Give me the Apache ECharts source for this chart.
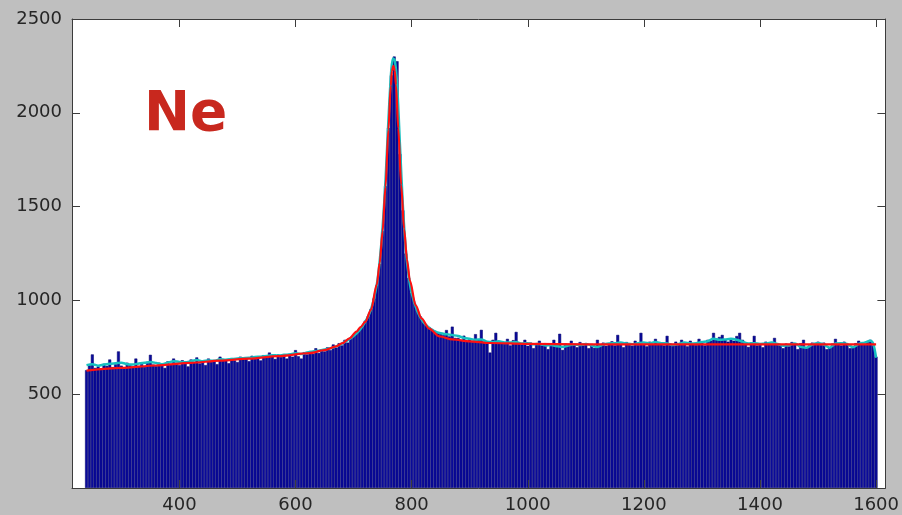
<!DOCTYPE html>
<html>
<head>
<meta charset="utf-8">
<script src="https://cdn.jsdelivr.net/npm/echarts@6/dist/echarts.min.js"></script>
<style>
  html, body { margin: 0; padding: 0; background: #bfbfbf; }
  #chart { width: 902px; height: 515px; }
</style>
</head>
<body>
<div id="chart"></div>
<script>
// Histogram: first bin centre and bin width (channel units)
const binStart = 240;
const binWidth = 5;

// Counts per bin, 240 .. 1600
const counts = [
  628, 655, 712, 640, 648, 630, 662, 651, 685, 644,
  660, 728, 652, 640, 668, 655, 646, 690, 650, 661,
  645, 672, 710, 658, 650, 668, 655, 640, 675, 662,
  690, 668, 655, 681, 662, 648, 685, 670, 696, 664,
  678, 655, 690, 672, 680, 660, 700, 678, 686, 665,
  692, 680, 671, 700, 684, 690, 676, 705, 688, 695,
  680, 708, 695, 722, 700, 688, 712, 698, 705, 690,
  716, 700, 735, 702, 690, 724, 712, 730, 715, 745,
  720, 738, 728, 750, 735, 765, 748, 772, 760, 790,
  775, 800, 812, 830, 846, 862, 892, 915, 955, 1010,
  1080, 1195, 1370, 1610, 1920, 2200, 2300, 2275, 1780, 1480,
  1250, 1120, 1040, 985, 945, 915, 890, 870, 858, 848,
  838, 830, 822, 815, 842, 808, 860, 800, 800, 790,
  812, 785, 795, 778, 820, 790, 843, 780, 770, 722,
  790, 827, 775, 782, 768, 795, 760, 788, 832, 772,
  765, 790, 758, 775, 745, 770, 785, 760, 772, 740,
  768, 790, 755, 822, 736, 770, 760, 785, 765, 750,
  778, 760, 772, 745, 768, 747, 790, 762, 775, 758,
  770, 782, 760, 816, 765, 750, 778, 770, 758, 785,
  762, 827, 768, 755, 780, 765, 795, 770, 775, 760,
  811, 770, 758, 780, 765, 790, 772, 755, 785, 768,
  762, 795, 775, 760, 790, 785, 827, 795, 805, 816,
  790, 780, 798, 785, 810, 827, 790, 770, 752, 775,
  811, 760, 772, 750, 780, 765, 770, 800, 772, 760,
  745, 770, 755, 778, 765, 740, 772, 790, 745, 760,
  775, 768, 780, 762, 775, 740, 750, 770, 795, 772,
  760, 780, 768, 745, 752, 772, 785, 765, 770, 778,
  790, 760, 700
];

// Smoothed spectrum [channel, counts]
const smoothed = [
  [240, 655], [250, 660], [260, 652], [270, 658], [280, 662], [290, 665], [300, 668], [310, 660],
  [320, 658], [330, 664], [340, 668], [350, 672], [360, 666], [370, 660], [380, 668], [390, 676],
  [400, 672], [410, 670], [420, 676], [430, 682], [440, 676], [450, 680], [460, 678], [470, 686],
  [480, 684], [490, 688], [500, 690], [510, 692], [520, 694], [530, 698], [540, 700], [550, 704],
  [560, 708], [570, 706], [580, 710], [590, 712], [600, 718], [610, 714], [620, 722], [630, 728],
  [640, 732], [650, 738], [660, 745], [670, 755], [680, 770], [690, 788], [700, 810], [710, 840],
  [720, 885], [730, 952], [740, 1085], [745, 1210], [750, 1390], [755, 1640], [760, 1960],
  [765, 2230], [768, 2290], [771, 2280], [775, 2150], [780, 1820], [785, 1500], [790, 1270],
  [795, 1130], [800, 1040], [810, 940], [820, 885], [830, 855], [840, 835], [850, 825], [860, 820],
  [870, 815], [880, 810], [890, 800], [900, 795], [910, 790], [920, 792], [930, 780], [940, 778],
  [950, 782], [960, 776], [970, 775], [980, 778], [990, 770], [1000, 772], [1010, 766], [1020, 768],
  [1030, 760], [1040, 762], [1050, 756], [1060, 752], [1070, 760], [1080, 765], [1090, 762],
  [1100, 768], [1110, 760], [1120, 752], [1130, 765], [1140, 770], [1150, 772], [1160, 775],
  [1170, 770], [1180, 766], [1190, 772], [1200, 775], [1210, 770], [1220, 778], [1230, 772],
  [1240, 770], [1250, 762], [1260, 768], [1270, 775], [1280, 770], [1290, 772], [1300, 778],
  [1310, 782], [1320, 795], [1330, 790], [1340, 792], [1350, 795], [1360, 790], [1370, 780],
  [1380, 770], [1390, 772], [1400, 768], [1410, 770], [1420, 775], [1430, 768], [1440, 758],
  [1450, 762], [1460, 770], [1470, 752], [1480, 748], [1490, 765], [1500, 772], [1510, 765],
  [1520, 748], [1530, 770], [1540, 772], [1550, 768], [1560, 750], [1570, 768], [1580, 775],
  [1590, 785], [1595, 770], [1600, 694]
];

// Fitted peak plus background [channel, counts]
const fit = [
  [240, 626], [300, 640], [360, 653], [420, 667], [470, 679], [520, 690], [570, 703], [624, 719],
  [650, 735], [670, 755], [681, 772], [693, 798], [705, 834], [712, 858], [720, 885], [730, 950],
  [740, 1084], [745, 1200], [750, 1368], [755, 1606], [760, 1910], [764, 2143], [766, 2222],
  [768.5, 2250], [771, 2224], [773, 2147], [777, 1917], [782, 1616], [787, 1382], [792, 1218],
  [797, 1105], [807, 973], [817, 904], [830, 850], [848, 808], [870, 792], [900, 782], [933, 773],
  [1000, 768], [1100, 766], [1300, 766], [1600, 766]
];

const xTicks = [400, 600, 800, 1000, 1200, 1400, 1600];
const yTicks = [500, 1000, 1500, 2000, 2500];
const elementLabel = 'Ne';

const bars = counts.map((c, i) => [binStart + i * binWidth, c]);

const frameColor = '#3c3c3c';
const labelStyle = { fontSize: 18, color: '#262626', fontFamily: 'DejaVu Sans',
                     formatter: v => String(v) };

function xAxisDef(pos, showLabel) {
  return {
    type: 'value', position: pos, min: 215, max: 1616, z: 10,
    splitLine: { show: false },
    axisLine: { show: true, onZero: false, lineStyle: { color: frameColor, width: 1 } },
    axisTick: { show: true, inside: true, length: 8, customValues: xTicks,
                lineStyle: { color: frameColor, width: 1 } },
    axisLabel: Object.assign({ show: showLabel, margin: 8, customValues: xTicks }, labelStyle)
  };
}
function yAxisDef(pos, showLabel) {
  return {
    type: 'value', position: pos, min: 0, max: 2500, z: 10,
    splitLine: { show: false },
    axisLine: { show: true, onZero: false, lineStyle: { color: frameColor, width: 1 } },
    axisTick: { show: true, inside: true, length: 8, customValues: yTicks,
                lineStyle: { color: frameColor, width: 1 } },
    axisLabel: Object.assign({ show: showLabel, margin: 10, customValues: yTicks }, labelStyle)
  };
}

const chart = echarts.init(document.getElementById('chart'), null, { renderer: 'canvas' });
chart.setOption({
  animation: false,
  backgroundColor: '#bfbfbf',
  grid: { left: 72, right: 15, top: 19, bottom: 27, show: true,
          backgroundColor: '#ffffff', borderWidth: 0 },
  xAxis: [xAxisDef('bottom', true), xAxisDef('top', false)],
  yAxis: [yAxisDef('left', true), yAxisDef('right', false)],
  graphic: [{
    type: 'text', left: 144, top: 88, z: 20,
    style: { text: elementLabel, font: 'bold 55px "DejaVu Sans"', fill: '#c8281e' }
  }],
  series: [
    {
      type: 'bar', data: bars, xAxisIndex: 0, yAxisIndex: 0,
      barWidth: '100%', barGap: '0%',
      itemStyle: { color: '#0a0a9a', borderColor: '#00006a', borderWidth: 0.5 },
      silent: true
    },
    {
      type: 'line', data: smoothed, xAxisIndex: 0, yAxisIndex: 0,
      smooth: 0.3, showSymbol: false,
      lineStyle: { color: '#17c0c0', width: 2.5 }, silent: true
    },
    {
      type: 'line', data: fit, xAxisIndex: 0, yAxisIndex: 0,
      smooth: 0.3, smoothMonotone: 'x', showSymbol: false,
      lineStyle: { color: '#ff1010', width: 2.2 }, silent: true
    }
  ]
});
</script>
</body>
</html>
